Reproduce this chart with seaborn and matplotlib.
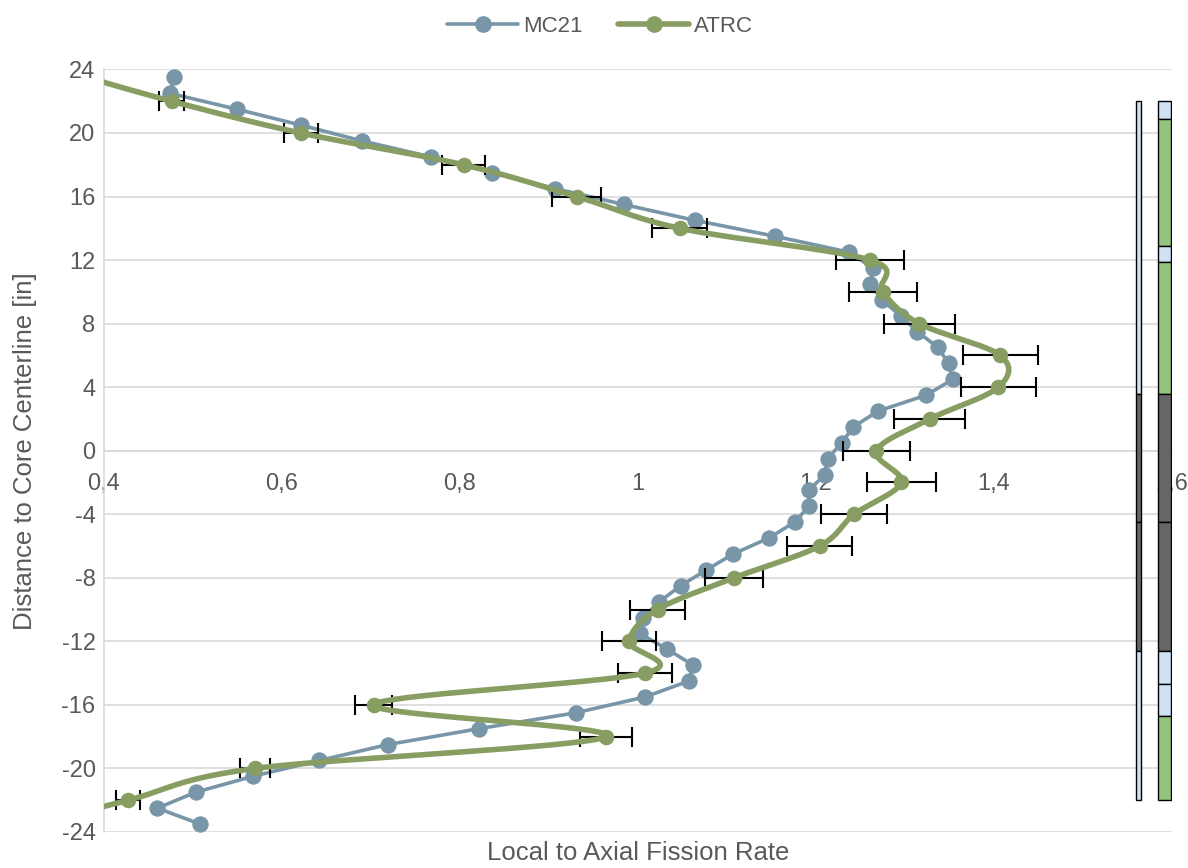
import numpy as np
import matplotlib
matplotlib.use("Agg")
import matplotlib.pyplot as plt
from matplotlib.lines import Line2D
from matplotlib.ticker import FuncFormatter
import seaborn as sns

# MC21 calculated profile (every inch)
mc21_pos = [23.5, 22.5, 21.5, 20.5, 19.5, 18.5, 17.5, 16.5, 15.5, 14.5, 13.5, 12.5,
            11.5, 10.5, 9.5, 8.5, 7.5, 6.5, 5.5, 4.5, 3.5, 2.5, 1.5, 0.5,
            -0.5, -1.5, -2.5, -3.5, -4.5, -5.5, -6.5, -7.5, -8.5, -9.5, -10.5, -11.5,
            -12.5, -13.5, -14.5, -15.5, -16.5, -17.5, -18.5, -19.5, -20.5, -21.5, -22.5, -23.5]
mc21_val = [0.479, 0.474, 0.549, 0.621, 0.690, 0.767, 0.836, 0.907, 0.984, 1.064, 1.154, 1.237,
            1.264, 1.261, 1.274, 1.295, 1.314, 1.337, 1.349, 1.354, 1.324, 1.270, 1.242, 1.229,
            1.213, 1.210, 1.192, 1.192, 1.176, 1.147, 1.107, 1.077, 1.048, 1.024, 1.006, 1.002,
            1.033, 1.062, 1.057, 1.008, 0.930, 0.821, 0.719, 0.642, 0.567, 0.503, 0.460, 0.508]

# ATRC measured profile (every 2 inches) with uncertainty
atrc_pos = [24, 22, 20, 18, 16, 14, 12, 10, 8, 6, 4, 2, 0,
            -2, -4, -6, -8, -10, -12, -14, -16, -18, -20, -22, -24]
atrc_val = [0.35, 0.476, 0.621, 0.804, 0.931, 1.047, 1.261, 1.275, 1.316, 1.407, 1.405, 1.328, 1.268,
            1.296, 1.243, 1.204, 1.108, 1.022, 0.990, 1.008, 0.703, 0.964, 0.570, 0.427, 0.29]
atrc_err = [0.011, 0.014, 0.019, 0.024, 0.028, 0.031, 0.038, 0.038, 0.040, 0.042, 0.042, 0.040, 0.038,
            0.039, 0.037, 0.036, 0.033, 0.031, 0.030, 0.030, 0.021, 0.029, 0.017, 0.013, 0.009]

# core layout strips at the right (segment edges top->bottom and fill colours)
LB, GR, DK = "#cfe2f3", "#93c47d", "#666666"
inner_edges = [22, 3.6, -4.5, -12.6, -22]
inner_colors = [LB, DK, DK, LB]
outer_edges = [22, 20.9, 12.9, 11.9, 3.6, -4.5, -12.6, -14.7, -16.7, -22]
outer_colors = [LB, GR, LB, GR, DK, DK, LB, LB, GR]

BLUE = "#7896a8"
GREEN = "#889d62"
TXT = "#595959"


def smooth(xs, ys, sx, sy, n=40):
    # Excel-like smoothed line (Catmull-Rom bezier) in screen-scaled units
    p = np.column_stack([np.asarray(xs) * sx, np.asarray(ys) * sy])
    p = np.vstack([p[0], p, p[-1]])
    t = np.linspace(0, 1, n)[:, None]
    out = []
    for i in range(1, len(p) - 2):
        p0, p1, p2, p3 = p[i - 1], p[i], p[i + 1], p[i + 2]
        c1 = p1 + (p2 - p0) / 6
        c2 = p2 - (p3 - p1) / 6
        out.append((1 - t) ** 3 * p1 + 3 * (1 - t) ** 2 * t * c1 + 3 * (1 - t) * t ** 2 * c2 + t ** 3 * p2)
    out = np.vstack(out)
    return out[:, 0] / sx, out[:, 1] / sy


sns.set_theme(style="white")
plt.rcParams['font.family'] = ['Liberation Sans', 'DejaVu Sans']
plt.rcParams['axes.unicode_minus'] = False

fig = plt.figure(figsize=(11.88, 8.68), dpi=100)
ax = fig.add_axes([0.0875, 0.0415, 0.899, 0.8785])
ax.set_axisbelow(True)

sns.lineplot(x=mc21_val, y=mc21_pos, sort=False, estimator=None, ax=ax, color=BLUE,
             linewidth=2.6, marker='o', markersize=11, markeredgecolor=BLUE, zorder=3)

sx, sy = 1068 / 1.2, 763 / 48.0
gx, gy = smooth(atrc_val, atrc_pos, sx, sy)
ax.plot(gx, gy, color=GREEN, linewidth=4, zorder=4, solid_capstyle='round')
ax.errorbar(atrc_val, atrc_pos, xerr=atrc_err, fmt='none', ecolor='black',
            elinewidth=1.5, capsize=7, capthick=1.5, zorder=3.5)
sns.scatterplot(x=atrc_val, y=atrc_pos, ax=ax, color=GREEN, edgecolor=GREEN, s=125,
                linewidth=0, zorder=5)

# core layout strips
for edges, colors, xc, w in [(inner_edges, inner_colors, 1.5625, 0.0065),
                             (outer_edges, outer_colors, 1.5915, 0.0150)]:
    bottoms = edges[1:]
    heights = np.array(edges[:-1]) - np.array(edges[1:])
    ax.bar([xc] * len(colors), heights, bottom=bottoms, width=w, color=colors,
           edgecolor='black', linewidth=1.0, zorder=6)

ax.set_xlim(0.4, 1.6)
ax.set_ylim(-24, 24)
ax.set_xticks([0.4, 0.6, 0.8, 1.0, 1.2, 1.4, 1.6])
ax.set_yticks(range(-24, 25, 4))
ax.xaxis.set_major_formatter(FuncFormatter(lambda v, p: f"{v:g}".replace('.', ',')))
ax.grid(axis='y', color='#d9d9d9', linewidth=1.2)
ax.grid(axis='x', visible=False)
for s in ['top', 'right']:
    ax.spines[s].set_visible(False)
ax.spines['bottom'].set_position(('data', 0))
ax.spines['bottom'].set_color('#d9d9d9')
ax.spines['bottom'].set_linewidth(1.2)
ax.spines['left'].set_color('#d9d9d9')
ax.spines['left'].set_linewidth(1.2)
ax.tick_params(axis='x', length=0, pad=16, labelsize=17, labelcolor=TXT)
ax.tick_params(axis='y', length=0, pad=6, labelsize=17, labelcolor=TXT)

ax.set_xlabel("Local to Axial Fission Rate", fontsize=18.5, color=TXT)
ax.xaxis.set_label_coords(0.5, -0.012)
ax.set_ylabel("Distance to Core Centerline [in]", fontsize=18.5, color=TXT)
ax.yaxis.set_label_coords(-0.063, 0.5)

handles = [Line2D([], [], color=BLUE, lw=2.6, marker='o', markersize=11),
           Line2D([], [], color=GREEN, lw=4, marker='o', markersize=11)]
fig.legend(handles, ["MC21", "ATRC"], loc='upper center', bbox_to_anchor=(0.505, 1.005), ncol=2,
           frameon=False, fontsize=16, labelcolor=TXT, handlelength=3.2, handletextpad=0.2,
           columnspacing=1.6)

fig.savefig("out.png", dpi=100)
